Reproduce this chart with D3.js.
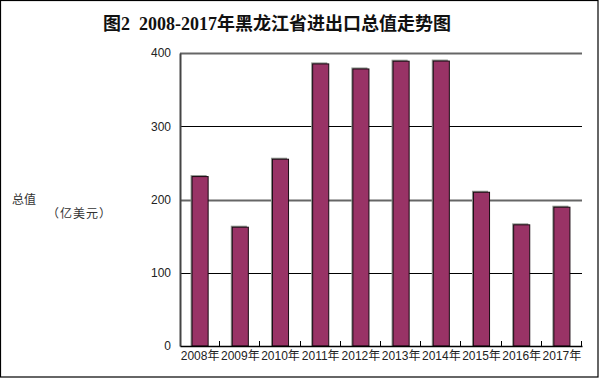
<!DOCTYPE html>
<html>
<head>
<meta charset="utf-8">
<script src="https://cdn.jsdelivr.net/npm/d3@7"></script>
<style>
	body { margin: 0; background: #fff; }
	svg { display: block; }
</style>
</head>
<body>
<svg id="chart" width="600" height="378"></svg>
<script>
// data
let years = ["2008年", "2009年", "2010年", "2011年", "2012年", "2013年", "2014年", "2015年", "2016年", "2017年"];
let totals = [231.3, 162.2, 255.0, 385.1, 378.2, 388.8, 389.0, 209.9, 165.4, 189.5];
let yTicks = [0, 100, 200, 300, 400];

let size = { w: 600, h: 378 };
let plot = { left: 180, right: 582, top: 53, bottom: 346 };

let svg = d3.select("#chart");

// frame
svg.append("rect")
	.attr("x", 0.5).attr("y", 0.5)
	.attr("width", 597.5).attr("height", 376.5)
	.attr("fill", "none")
	.attr("stroke", "#000")
	.attr("stroke-width", 1.2);

let x = d3.scaleBand()
	.domain(years)
	.range([plot.left, plot.right])
	.paddingInner(0.6)
	.paddingOuter(0.3);

let y = d3.scaleLinear()
	.domain([0, 400])
	.range([plot.bottom, plot.top]);

// gridlines (400 & 200 come out thick grey, 300 & 100 thin black)
svg.append("g")
	.selectAll("line")
	.data(yTicks.filter((d) => d > 0))
	.join("line")
	.attr("x1", plot.left)
	.attr("x2", plot.right)
	.attr("y1", (d) => Math.round(y(d)) + 0.5)
	.attr("y2", (d) => Math.round(y(d)) + 0.5)
	.attr("stroke", (d) => (d % 200 === 0 ? "#666" : "#000"))
	.attr("stroke-width", (d) => (d % 200 === 0 ? 2 : 1));

// bars with a little grey shadow
let bars = svg.append("g")
	.selectAll("g.bar")
	.data(years.map((d, i) => ({ year: d, value: totals[i] })))
	.join("g")
	.classed("bar", true);

bars.append("rect")
	.attr("x", (d) => x(d.year) - 1.5)
	.attr("y", (d) => y(d.value) - 1.5)
	.attr("width", x.bandwidth())
	.attr("height", (d) => plot.bottom - y(d.value) + 1.5)
	.attr("fill", "#8e958e");

bars.append("rect")
	.attr("x", (d) => x(d.year))
	.attr("y", (d) => y(d.value))
	.attr("width", x.bandwidth())
	.attr("height", (d) => plot.bottom - y(d.value))
	.attr("fill", "#993366")
	.attr("stroke", "#1a0a12")
	.attr("stroke-width", 1);

// y axis
let yAxis = svg.append("g")
	.attr("transform", `translate(${plot.left},0)`)
	.call(d3.axisLeft(y).tickValues(yTicks).tickSize(0).tickPadding(9));
yAxis.select(".domain").attr("stroke", "#444").attr("stroke-width", 2);
yAxis.selectAll("text")
	.attr("font-family", "Liberation Sans, Arial, sans-serif")
	.attr("font-size", 12)
	.attr("fill", "#222");

// x axis, ticks point up between the bars
let bounds = d3.range(1, years.length + 1).map((i) => plot.left + (plot.right - plot.left) * i / years.length);
let xAxis = svg.append("g")
	.attr("transform", `translate(0,${plot.bottom})`)
	.call(d3.axisBottom(x).tickSize(0).tickPadding(5));
xAxis.select(".domain").attr("stroke", "#000").attr("stroke-width", 1.5);
xAxis.selectAll("text")
	.attr("font-family", "Liberation Sans, Arial, 'Noto Sans CJK SC', sans-serif")
	.attr("font-size", 12)
	.attr("fill", "#222");

svg.append("g")
	.selectAll("line")
	.data(bounds)
	.join("line")
	.attr("x1", (d) => Math.round(d) - 0.5)
	.attr("x2", (d) => Math.round(d) - 0.5)
	.attr("y1", plot.bottom)
	.attr("y2", plot.bottom - 5)
	.attr("stroke", "#000");

// title
svg.append("text")
	.attr("x", 277)
	.attr("y", 30)
	.attr("text-anchor", "middle")
	.style("white-space", "pre")
	.attr("font-family", "Liberation Serif, 'Noto Sans CJK SC', serif")
	.attr("font-weight", "bold")
	.attr("font-size", 18)
	.attr("fill", "#111")
	.text("图2  2008-2017年黑龙江省进出口总值走势图");

// y label
svg.append("text")
	.attr("x", 12)
	.attr("y", 204)
	.attr("font-family", "'Noto Sans CJK SC', sans-serif")
	.attr("font-size", 12)
	.attr("fill", "#333")
	.text("总值");

svg.append("text")
	.attr("x", 47)
	.attr("y", 218)
	.attr("font-family", "'Noto Sans CJK SC', sans-serif")
	.attr("font-size", 12)
	.attr("letter-spacing", 1)
	.attr("fill", "#333")
	.text("（亿美元）");
</script>
</body>
</html>
